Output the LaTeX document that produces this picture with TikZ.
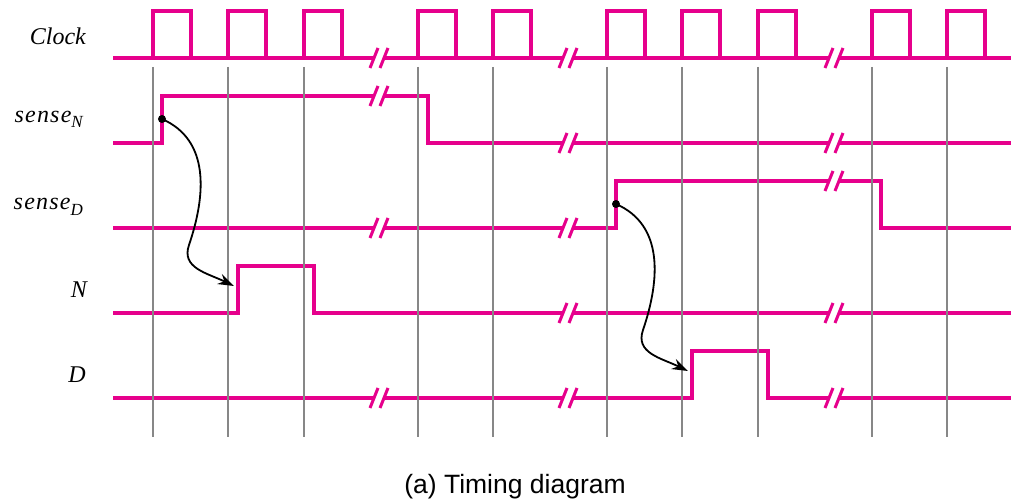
\documentclass[tikz,border=0pt]{standalone}
\usepackage{fontspec}
\setmainfont{Liberation Serif}
\newfontfamily\capfont{Liberation Sans}
\usetikzlibrary{arrows.meta}
\definecolor{sig}{RGB}{230,0,140}
\definecolor{tick}{RGB}{135,135,135}
\begin{document}
\begin{tikzpicture}[x=1pt,y=-1pt,
  wave/.style={sig,line width=4pt},
  slash/.style={sig,line width=3pt},
  grid/.style={tick,line width=2pt},
  cause/.style={line width=1.8pt,-{Stealth[length=16pt,width=11pt]}},
  lbl/.style={anchor=base east,inner sep=0pt,font=\fontsize{24}{28}\selectfont\itshape}]
\useasboundingbox (0,0) rectangle (1019,502);
% signals
\draw[wave] (113,58)--(1011,58);
\foreach \r in {153,228,304,418,493,607,682,758,872,947}{\draw[wave] (\r,58)--(\r,11)--(\r+38,11)--(\r+38,58);}
\draw[wave] (113,143)--(162,143)--(162,96)--(428,96)--(428,143)--(1011,143);
\draw[wave] (113,228)--(616,228)--(616,181)--(881,181)--(881,228)--(1011,228);
\draw[wave] (113,313)--(238,313)--(238,266)--(314,266)--(314,313)--(1011,313);
\draw[wave] (113,398)--(692,398)--(692,351)--(768,351)--(768,398)--(1011,398);
% time breaks
\foreach \c/\ys in {374/{58,96,228,398},563/{58,143,228,313,398},829/{58,143,181,313,398}}{
  \foreach \y in \ys {
    \fill[white] (\c-1.2,\y+3)--(\c+1.2,\y-3)--(\c+11.2,\y-3)--(\c+8.8,\y+3)--cycle;
    \draw[slash] (\c-4,\y+10)--(\c+4,\y-10) (\c+6,\y+10)--(\c+14,\y-10);}}
% clock edges
\foreach \x in {153,228,304,418,493,607,682,758,872,947}{\draw[grid] (\x,67)--(\x,437);}
\node[lbl] (clk) at (86,45) {Clock};
\node[lbl] (senseN) at (83,123) {\addfontfeature{LetterSpace=5}sense\raisebox{-5pt}{\fontsize{17}{17}\selectfont N}};
\node[lbl] (senseD) at (83,210) {\addfontfeature{LetterSpace=5}sense\raisebox{-6pt}{\fontsize{17}{17}\selectfont D}};
\node[lbl] (sigN) at (87,298) {N};
\node[lbl] (sigD) at (86,382) {D};
% cause and effect
\coordinate (dotN) at (162,119); \coordinate (midN) at (189,245); \coordinate (tipN) at (234,286);
\coordinate (dotD) at (616,204); \coordinate (midD) at (643,330); \coordinate (tipD) at (688,371);
\foreach \s in {N,D}{
  \fill (dot\s) circle (4pt);
  \draw[cause] (dot\s) .. controls +(48,21) and +(17,-50) .. (mid\s) .. controls +(-8,23) and +(-27,-13) .. (tip\s);}
\node[font=\capfont\fontsize{26.5}{30}\selectfont,anchor=base] (cap) at (515,493) {(a) Timing diagram};
\end{tikzpicture}
\end{document}
